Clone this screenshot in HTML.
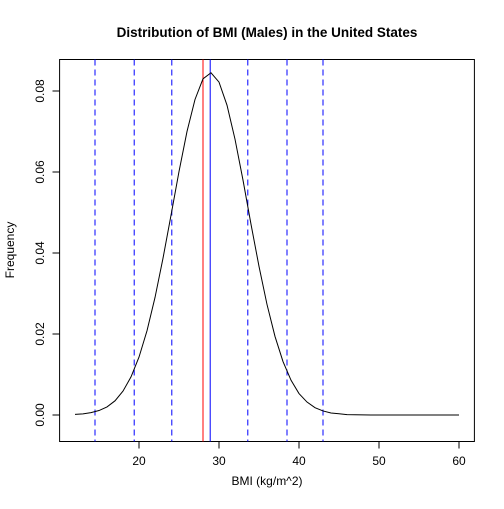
<!DOCTYPE html>
<html><head><meta charset="utf-8"><style>
body{margin:0;background:#fff}
svg text{font-family:"Liberation Sans",Arial,sans-serif;fill:#000}
</style></head><body>
<svg id="chart" width="504" height="504">
<text x="267" y="37" font-size="13.5" font-weight="bold" text-anchor="middle">Distribution of BMI (Males) in the United States</text>
<rect x="59.6" y="59.5" width="414.8" height="382" fill="none" stroke="#000"/>
<text x="267" y="485" font-size="12" text-anchor="middle">BMI (kg/m^2)</text>
<text transform="translate(14,250) rotate(-90)" font-size="12" text-anchor="middle">Frequency</text>
<g id="axes"></g><g id="lines"></g>
</svg>
<script>
const xs=[12,13,14,15,16,17,18,19,20,21,22,23,24,25,26,27,28,29,30,31,32,33,34,35,36,37,38,39,40,41,42,43,44,45,46,47,48,49,50,51,52,53,54,55,56,57,58,59,60];
const ys=[0.00014,0.00029,0.00058,0.0011,0.0020,0.0035,0.0059,0.0094,0.0143,0.0208,0.0290,0.0387,0.0493,0.0601,0.0700,0.0779,0.0830,0.0845,0.0822,0.0765,0.0681,0.0580,0.0471,0.0367,0.0273,0.0194,0.0132,0.0086,0.0053,0.0032,0.0018,0.0010,0.0005,0.0003,0.0001,0.00005,0.00002,0,0,0,0,0,0,0,0,0,0,0,0];
const xTicks=[20,30,40,50,60];
const yTicks=[0,0.02,0.04,0.06,0.08];
const yTickLabels=["0.00","0.02","0.04","0.06","0.08"];
const redLine=[28];
const blueLine=[28.9];
const dashedLines=[14.5,19.4,24.1,33.6,38.5,43.0];
const X=v=>139+(v-20)*8;
const Y=v=>415-v*4050;
const NS="http://www.w3.org/2000/svg";
const ax=document.getElementById('axes'),ln=document.getElementById('lines');
function mk(p,tag,a){const e=document.createElementNS(NS,tag);for(const k in a)e.setAttribute(k,a[k]);p.appendChild(e);return e;}
xTicks.forEach(t=>{
 const l=mk(ax,'line',{x1:X(t),x2:X(t),y1:441.5,y2:448.5,stroke:'#000'});
 
 
 const tx=mk(ax,'text',{x:X(t),y:465,'font-size':12,'text-anchor':'middle'});tx.textContent=t;
 
 
});
mk(ax,'line',{x1:X(20),x2:X(60),y1:441.5,y2:441.5,stroke:'#000'});
yTicks.forEach((t,i)=>{
 const l=mk(ax,'line',{x1:52.5,x2:59.6,y1:Y(t),y2:Y(t),stroke:'#000'});
 
 
 const tx=mk(ax,'text',{transform:`translate(44,${Y(t)}) rotate(-90)`,'font-size':12,'text-anchor':'middle'});tx.textContent=yTickLabels[i];
 
 
});
dashedLines.forEach(v=>{
 const l=mk(ln,'line',{x1:X(v),x2:X(v),y1:59.5,y2:441.5,stroke:'#0000ff','stroke-dasharray':'6,4'});
 
 
});
redLine.forEach(v=>{
 const l=mk(ln,'line',{x1:X(v),x2:X(v),y1:59.5,y2:441.5,stroke:'#ff0000'});
 
 
});
blueLine.forEach(v=>{
 const l=mk(ln,'line',{x1:X(v),x2:X(v),y1:59.5,y2:441.5,stroke:'#0000ff'});
 
 
});
const p=mk(ln,'polyline',{points:xs.map((x,i)=>X(x)+','+Y(ys[i])).join(' '),fill:'none',stroke:'#000'});


</script>
</body></html>
